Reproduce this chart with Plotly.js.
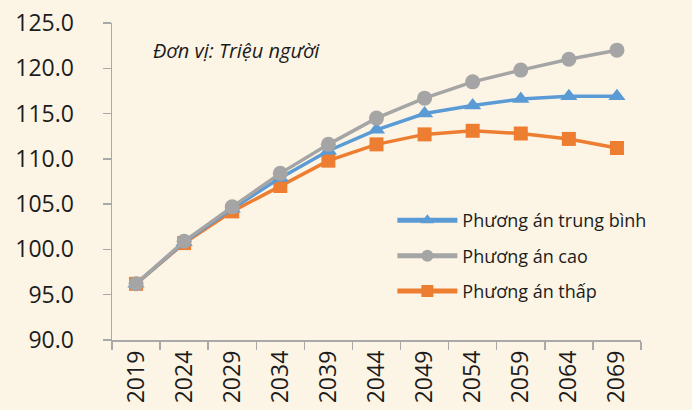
<!DOCTYPE html>
<html>
<head>
<meta charset="utf-8">
<script src="https://cdn.plot.ly/plotly-3.0.1.min.js"></script>
<style>
  html, body { margin: 0; padding: 0; background: #FCF5E6; }
  #chart { width: 692px; height: 410px; }
</style>
</head>
<body>
<div id="chart"></div>
<script>
// Dân số dự báo theo ba phương án (triệu người)
const years = ['2019', '2024', '2029', '2034', '2039', '2044', '2049', '2054', '2059', '2064', '2069'];
const medium = [96.2, 100.8, 104.5, 107.9, 110.9, 113.2, 115.0, 115.9, 116.6, 116.9, 116.9];
const high   = [96.2, 100.9, 104.7, 108.4, 111.6, 114.5, 116.7, 118.5, 119.8, 121.0, 122.0];
const low    = [96.2, 100.7, 104.2, 107.0, 109.8, 111.6, 112.7, 113.1, 112.8, 112.2, 111.2];

const names = ['Phương án trung bình', 'Phương án cao', 'Phương án thấp'];
const colors = { medium: '#5B9BD5', high: '#A5A5A5', low: '#ED7D31' };

const FONT = '"Open Sans", "Noto Sans", sans-serif';
const INK = '#1c1c1c';
const AXIS = '#A9A9A9';

function series(y, name, color, symbol, size, rank) {
  return {
    x: years, y: y, name: name, type: 'scatter', mode: 'lines+markers',
    line: { color: color, width: 3.5 },
    marker: { color: color, symbol: symbol, size: size },
    legendgroup: name, legendrank: rank
  };
}

// low first, high last so the grey circles sit on top
const data = [
  series(low, names[2], colors.low, 'square', 14, 3),
  series(medium, names[0], colors.medium, 'triangle-up', 15, 1),
  series(high, names[1], colors.high, 'circle', 15, 2)
];

const layout = {
  width: 692, height: 410,
  margin: { l: 112, r: 51, t: 23, b: 70, pad: 0 },
  paper_bgcolor: '#FCF5E6', plot_bgcolor: '#FCF5E6',
  font: { family: FONT, color: INK },
  showlegend: true,
  legend: {
    x: 0.53, y: 0.435, xanchor: 'left', yanchor: 'top',
    bgcolor: 'rgba(0,0,0,0)', font: { size: 18, color: INK, family: FONT },
    traceorder: 'grouped', tracegroupgap: 9,
    itemsizing: 'constant', itemwidth: 60
  },
  xaxis: {
    type: 'category', tickson: 'boundaries', range: [-0.5, 10.5],
    showline: true, linecolor: AXIS, linewidth: 1.5,
    ticks: 'outside', ticklen: 8, tickcolor: AXIS, tickwidth: 1.5,
    tickangle: -90, tickfont: { size: 23, color: INK },
    showgrid: false, zeroline: false
  },
  yaxis: {
    range: [90, 125], dtick: 5, tickformat: '.1f',
    showline: true, linecolor: AXIS, linewidth: 1.5,
    ticks: 'outside', ticklen: 8, tickcolor: AXIS, tickwidth: 1.5,
    tickfont: { size: 23, color: INK }, ticklabelstandoff: 24,
    showgrid: false, zeroline: false
  },
  annotations: [{
    text: '<i>Đơn vị: Triệu người</i>', xref: 'paper', yref: 'paper',
    x: 0.235, y: 0.912, xanchor: 'center', yanchor: 'middle', showarrow: false,
    font: { size: 20, color: INK, family: FONT }
  }]
};

Plotly.newPlot('chart', data, layout, { displayModeBar: false, staticPlot: true });
</script>
</body>
</html>
